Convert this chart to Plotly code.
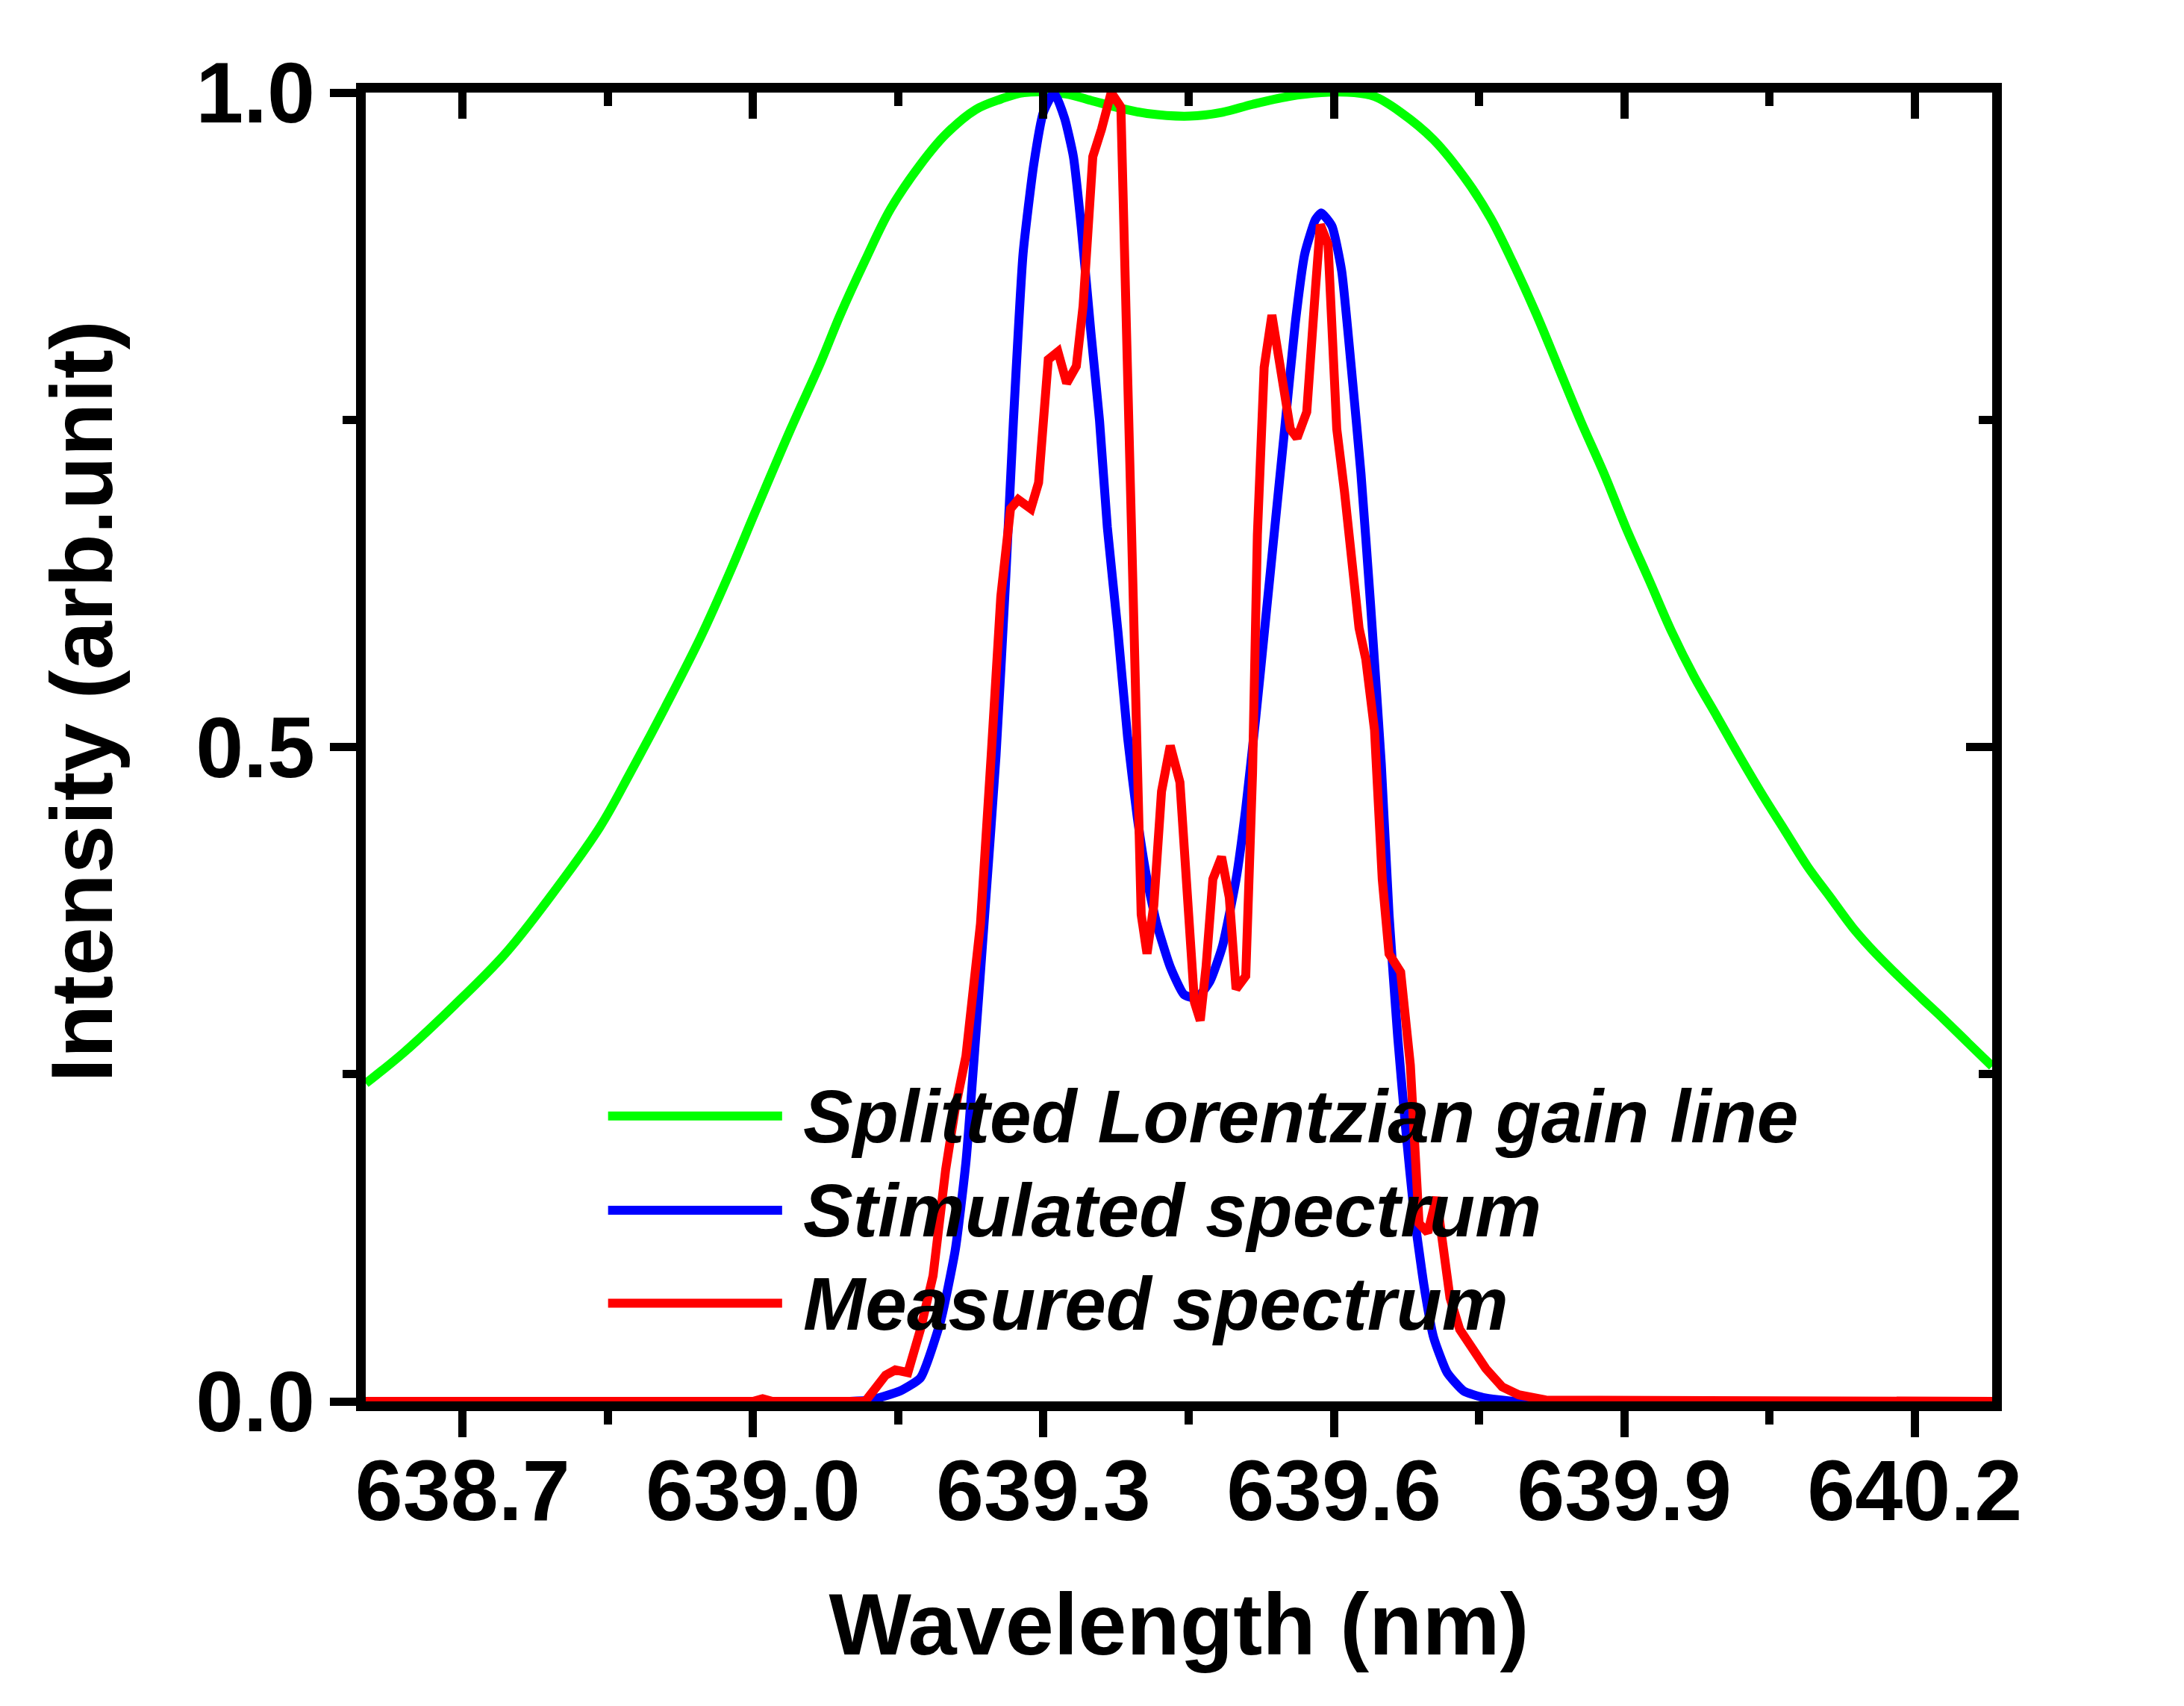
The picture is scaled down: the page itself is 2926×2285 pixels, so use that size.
import plotly.graph_objects as go

# Splitted Lorentzian gain line
gain_x = [638.600, 638.640, 638.692, 638.744, 638.790, 638.842, 638.873, 638.909,
          638.946, 638.977, 639.002, 639.039, 639.070, 639.090, 639.116, 639.142,
          639.173, 639.199, 639.230, 639.256, 639.280, 639.323, 639.349, 639.380,
          639.407, 639.451, 639.485, 639.516, 639.553, 639.587, 639.621, 639.642,
          639.669, 639.703, 639.738, 639.762, 639.785, 639.809, 639.832, 639.855,
          639.879, 639.902, 639.926, 639.949, 639.972, 639.996, 640.019, 640.043,
          640.066, 640.089, 640.113, 640.136, 640.160, 640.183, 640.207, 640.230,
          640.255, 640.280]
gain_y = [0.243, 0.267, 0.303, 0.342, 0.385, 0.439, 0.480, 0.530,
          0.584, 0.635, 0.679, 0.743, 0.794, 0.830, 0.872, 0.911,
          0.945, 0.968, 0.987, 0.995, 1.000, 0.999, 0.994, 0.988,
          0.984, 0.982, 0.985, 0.991, 0.997, 1.000, 1.000, 0.997,
          0.985, 0.964, 0.932, 0.904, 0.870, 0.831, 0.790, 0.749,
          0.709, 0.667, 0.627, 0.588, 0.554, 0.523, 0.493, 0.463,
          0.436, 0.409, 0.385, 0.362, 0.342, 0.325, 0.308, 0.292,
          0.274, 0.256]

# Stimulated spectrum
sim_x = [638.600, 639.100, 639.121, 639.152, 639.173, 639.194, 639.209, 639.220,
         639.230, 639.240, 639.251, 639.261, 639.269, 639.279, 639.290, 639.300,
         639.311, 639.322, 639.331, 639.339, 639.349, 639.358, 639.366, 639.377,
         639.387, 639.397, 639.407, 639.417, 639.431, 639.445, 639.458, 639.472,
         639.485, 639.499, 639.509, 639.519, 639.530, 639.540, 639.550, 639.560,
         639.570, 639.581, 639.587, 639.598, 639.608, 639.618, 639.628, 639.638,
         639.649, 639.657, 639.666, 639.674, 639.683, 639.693, 639.703, 639.717,
         639.734, 639.754, 639.788, 640.280]
sim_y = [0.000, 0.000, 0.001, 0.008, 0.018, 0.062, 0.116, 0.183,
         0.278, 0.379, 0.493, 0.628, 0.749, 0.877, 0.945, 0.985,
         1.000, 0.980, 0.951, 0.898, 0.817, 0.749, 0.668, 0.588,
         0.507, 0.446, 0.399, 0.365, 0.332, 0.311, 0.308, 0.321,
         0.348, 0.399, 0.453, 0.520, 0.601, 0.675, 0.749, 0.823,
         0.877, 0.903, 0.908, 0.898, 0.864, 0.790, 0.709, 0.608,
         0.487, 0.372, 0.278, 0.210, 0.143, 0.089, 0.049, 0.022,
         0.008, 0.003, 0.000, 0.000]

# Measured spectrum
meas_x = [638.600, 639.000, 639.010, 639.020, 639.116, 639.125, 639.137, 639.147,
          639.160, 639.173, 639.186, 639.199, 639.209, 639.220, 639.228, 639.235,
          639.246, 639.256, 639.266, 639.274, 639.287, 639.295, 639.305, 639.315,
          639.324, 639.334, 639.341, 639.351, 639.360, 639.370, 639.380, 639.387,
          639.397, 639.401, 639.407, 639.414, 639.422, 639.431, 639.441, 639.450,
          639.456, 639.462, 639.468, 639.475, 639.484, 639.492, 639.499, 639.509,
          639.516, 639.521, 639.528, 639.536, 639.547, 639.555, 639.562, 639.572,
          639.581, 639.586, 639.594, 639.603, 639.611, 639.620, 639.626, 639.633,
          639.642, 639.650, 639.657, 639.669, 639.679, 639.688, 639.697, 639.706,
          639.720, 639.730, 639.744, 639.757, 639.774, 639.791, 639.819, 640.280]
meas_y = [0.000, 0.000, 0.002, 0.000, 0.000, 0.008, 0.020, 0.024,
          0.022, 0.055, 0.096, 0.177, 0.224, 0.264, 0.311, 0.365,
          0.493, 0.615, 0.682, 0.689, 0.682, 0.702, 0.796, 0.802,
          0.778, 0.791, 0.837, 0.951, 0.972, 1.000, 0.989, 0.783,
          0.480, 0.372, 0.342, 0.379, 0.466, 0.501, 0.473, 0.372,
          0.305, 0.291, 0.332, 0.399, 0.416, 0.385, 0.315, 0.325,
          0.480, 0.662, 0.790, 0.830, 0.776, 0.743, 0.736, 0.756,
          0.850, 0.899, 0.884, 0.743, 0.695, 0.628, 0.591, 0.567,
          0.513, 0.399, 0.342, 0.328, 0.257, 0.136, 0.129, 0.156,
          0.079, 0.055, 0.040, 0.025, 0.011, 0.005, 0.001, 0.000]

# name, x, y, colour, line shape, smoothing
series = [
    ("Splitted Lorentzian gain line", gain_x, gain_y, "#00ff00", "spline", 1.0),
    ("Stimulated spectrum", sim_x, sim_y, "#0000ff", "spline", 0.5),
    ("Measured spectrum", meas_x, meas_y, "#ff0000", "linear", 0),
]

x_range = [638.6, 640.28]
y_range = [0, 1]
FONT = "Liberation Sans, Arial, sans-serif"

fig = go.Figure()
for name, xs, ys, color, shape, smooth in series:
    fig.add_trace(go.Scatter(x=xs, y=ys, name=name, mode="lines",
                             line=dict(color=color, width=12, shape=shape,
                                       smoothing=smooth),
                             showlegend=False))

# invisible trace so the mirrored (inside) tick axes get drawn
fig.add_trace(go.Scatter(x=gain_x, y=gain_y, xaxis="x2", yaxis="y2", mode="lines",
                         opacity=0, hoverinfo="skip", showlegend=False))

axis_common = dict(showgrid=False, zeroline=False, tickcolor="black", tickwidth=11,
                   ticklen=35)
minor_common = dict(ticklen=18, tickwidth=11, tickcolor="black")
title_font = dict(size=117, weight="bold", color="black", family=FONT)

fig.update_layout(
    width=2926, height=2285,
    margin=dict(l=482, r=265, t=116, b=416),
    plot_bgcolor="white", paper_bgcolor="white",
    font=dict(family=FONT, color="black", size=115, weight="bold"),
    xaxis=dict(range=x_range, tick0=638.7, dtick=0.3, tickformat=".1f",
               ticks="outside", showline=True, linewidth=13, linecolor="black",
               mirror=True, ticklabelstandoff=-27,
               minor=dict(dtick=0.15, tick0=638.7, ticks="outside", **minor_common),
               title=dict(text="Wavelength (nm)", standoff=81, font=title_font),
               tickfont=dict(size=115, weight="bold"), **axis_common),
    yaxis=dict(range=y_range, tick0=0, dtick=0.5, tickformat=".1f",
               ticks="outside", showline=True, linewidth=13, linecolor="black",
               mirror=True, ticklabelstandoff=-3,
               minor=dict(dtick=0.25, tick0=0, ticks="outside", **minor_common),
               tickfont=dict(size=115, weight="bold"), **axis_common),
    xaxis2=dict(range=x_range, overlaying="x", side="top", tick0=638.7, dtick=0.3,
                ticks="inside", showticklabels=False, showline=False,
                minor=dict(dtick=0.15, tick0=638.7, ticks="inside", **minor_common),
                **axis_common),
    yaxis2=dict(range=y_range, overlaying="y", side="right", tick0=0, dtick=0.5,
                ticks="inside", showticklabels=False, showline=False,
                minor=dict(dtick=0.25, tick0=0, ticks="inside", **minor_common),
                **axis_common),
)

# y title as an annotation: in the original it sits a little above centre
fig.add_annotation(text="Intensity (arb.unit)", xref="paper", yref="paper",
                   x=-0.175, y=0.535, xanchor="center", yanchor="middle",
                   textangle=-90, showarrow=False, font=title_font)

# legend drawn by hand so the sample lines are as long as in the original
leg_x0, leg_x1, text_x = 0.149, 0.256, 0.268
leg_rows = [0.218, 0.146, 0.075]
for (name, _, _, color, _, _), ly in zip(series, leg_rows):
    fig.add_shape(type="line", xref="paper", yref="paper", x0=leg_x0, x1=leg_x1,
                  y0=ly, y1=ly, line=dict(color=color, width=12))
    fig.add_annotation(text=name, xref="paper", yref="paper", x=text_x, y=ly,
                       xanchor="left", yanchor="middle", showarrow=False,
                       font=dict(family=FONT, size=100, weight="bold",
                                 style="italic", color="black"))

fig.write_html("out.html")
